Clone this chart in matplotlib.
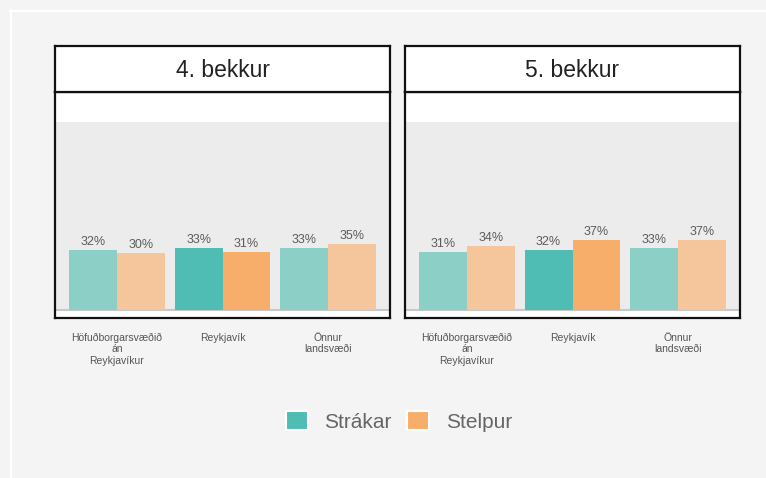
import numpy as np
import matplotlib
matplotlib.use('Agg')
import matplotlib.pyplot as plt
from matplotlib.patches import Patch
from matplotlib.lines import Line2D

plt.rcParams['font.family'] = ['Liberation Sans', 'DejaVu Sans']

# data
categories = ['Höfuðborgarsvæðið\nán\nReykjavíkur', 'Reykjavík', 'Önnur\nlandsvæði']
panels = ['4. bekkur', '5. bekkur']
strakar = {'4. bekkur': [32, 33, 33], '5. bekkur': [31, 32, 33]}
stelpur = {'4. bekkur': [30, 31, 35], '5. bekkur': [34, 37, 37]}
highlight = 'Reykjavík'
series_names = ['Strákar', 'Stelpur']

teal, teal_light = '#50bdb4', '#8bcfc6'
orange, orange_light = '#f8ae6b', '#f5c69c'
bg = '#f4f4f4'

W, H = 766, 478
fig = plt.figure(figsize=(W / 100, H / 100), dpi=100, facecolor=bg)

# thin white frame line (top / left)
fig.add_artist(Line2D([10.5 / W, 10.5 / W], [0, 1 - 10 / H], color='white', lw=1.5, transform=fig.transFigure))
fig.add_artist(Line2D([10 / W, 1], [1 - 10.5 / H, 1 - 10.5 / H], color='white', lw=1.5, transform=fig.transFigure))

lefts = [55, 405]
pw = 335
x = np.arange(len(categories))
bw = 0.4525

for left, name in zip(lefts, panels):
    ax = fig.add_axes([left / W, 1 - 318 / H, pw / W, (318 - 92) / H])
    ax.set_facecolor('white')
    ax.axhspan(0, 100, color='#ececec', zorder=0, lw=0)
    ax.axhline(0, color='#c8c8c8', lw=1.5, zorder=1)
    c1 = [teal if c == highlight else teal_light for c in categories]
    c2 = [orange if c == highlight else orange_light for c in categories]
    b1 = ax.bar(x - bw / 2, strakar[name], bw, color=c1, zorder=2)
    b2 = ax.bar(x + bw / 2, stelpur[name], bw, color=c2, zorder=2)
    for b in (b1, b2):
        ax.bar_label(b, fmt='%d%%', padding=1.5, fontsize=9, color='#5c5c5c')
    ax.set_xlim(-0.586, 2.586)
    ax.set_ylim(-4.5, 116.3)
    ax.set_yticks([])
    ax.set_xticks(x)
    ax.set_xticklabels(categories, fontsize=7.5, color='#555555', linespacing=1.22)
    ax.tick_params(axis='x', length=0, pad=10.5)
    for s in ax.spines.values():
        s.set_linewidth(1.6)
        s.set_color('#111111')

    st = fig.add_axes([left / W, 1 - 92 / H, pw / W, 46 / H])
    st.set_facecolor('white')
    st.set_xticks([])
    st.set_yticks([])
    for s in st.spines.values():
        s.set_linewidth(1.6)
        s.set_color('#111111')
    st.text(0.5, 0.46, name, ha='center', va='center', fontsize=16.5, color='#222222',
            transform=st.transAxes)

handles = [Patch(facecolor=teal, edgecolor='white', lw=1.5),
           Patch(facecolor=orange, edgecolor='white', lw=1.5)]
fig.legend(handles, series_names, loc='center', bbox_to_anchor=(399 / W, 1 - 421.5 / H),
           ncol=2, frameon=False, fontsize=15, handlelength=1.05, handleheight=1.05,
           handletextpad=0.8, columnspacing=0.75, labelcolor='#666666')

fig.savefig('out.png', dpi=100, facecolor=bg)
